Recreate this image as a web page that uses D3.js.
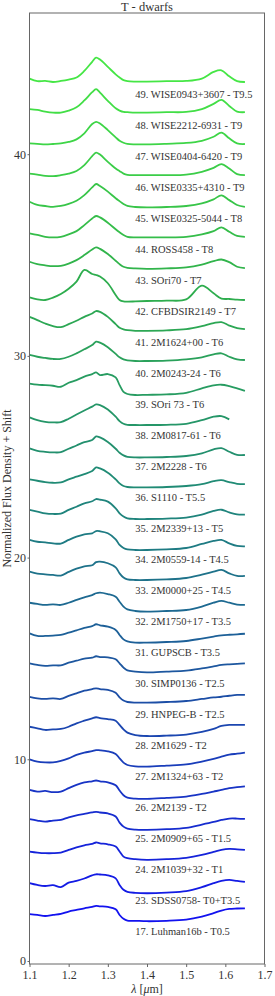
<!DOCTYPE html>
<html>
<head>
<meta charset="utf-8">
<script src="https://cdn.jsdelivr.net/npm/d3@7"></script>
<style>
  body { margin: 0; background: #fff; }
  text { font-family: "Liberation Serif", "DejaVu Serif", serif; fill: #333; }
</style>
</head>
<body>
<svg id="chart"></svg>
<script>
// wavelength grid (micron) shared by all spectra
const wavelength = [1.10, 1.12, 1.14, 1.16, 1.18, 1.20, 1.22, 1.24, 1.26, 1.27, 1.28, 1.30, 1.32,
  1.33, 1.34, 1.35, 1.37, 1.40, 1.45, 1.50, 1.54, 1.57, 1.59, 1.61, 1.63, 1.65];

// labels, top to bottom
const names = [
  '49. WISE0943+3607 - T9.5', '48. WISE2212-6931 - T9', '47. WISE0404-6420 - T9',
  '46. WISE0335+4310 - T9', '45. WISE0325-5044 - T8', '44. ROSS458 - T8', '43. SOri70 - T7',
  '42. CFBDSIR2149 - T7', '41. 2M1624+00 - T6', '40. 2M0243-24 - T6', '39. SOri 73 - T6',
  '38. 2M0817-61 - T6', '37. 2M2228 - T6', '36. S1110 - T5.5', '35. 2M2339+13 - T5',
  '34. 2M0559-14 - T4.5', '33. 2M0000+25 - T4.5', '32. 2M1750+17 - T3.5', '31. GUPSCB - T3.5',
  '30. SIMP0136 - T2.5', '29. HNPEG-B - T2.5', '28. 2M1629 - T2', '27. 2M1324+63 - T2',
  '26. 2M2139 - T2', '25. 2M0909+65 - T1.5', '24. 2M1039+32 - T1', '23. SDSS0758- T0+T3.5',
  '17. Luhman16b - T0.5'
];

// normalized flux (before shift), one row per spectrum, same order as names
const fluxes = [
  [0.15, 0.02, 0.03, -0.02, 0.03, 0.10, 0.20, 0.53, 0.98, 1.19, 1.09, 0.73, 0.36, 0.20, 0.07, 0.02, 0, 0, 0.02, 0.03, 0.15, 0.48, 0.56, 0.26, 0.02, -0.02],
  [0.17, 0.13, 0.05, 0, 0, 0.10, 0.26, 0.60, 1.01, 1.16, 0.99, 0.58, 0.21, 0.10, 0.03, 0.02, 0, 0, 0.02, 0.03, 0.17, 0.43, 0.63, 0.33, 0.05, 0.02],
  [0.01, -0.01, -0.04, -0.02, 0.01, 0.08, 0.21, 0.51, 0.97, 1.08, 1.00, 0.67, 0.31, 0.14, 0.04, -0.02, -0.04, -0.04, -0.01, 0.03, 0.14, 0.34, 0.54, 0.26, 0.01, -0.02],
  [0.05, 0.00, -0.06, -0.08, -0.03, 0.05, 0.18, 0.47, 0.91, 1.09, 0.99, 0.63, 0.30, 0.17, 0.05, -0.01, -0.03, -0.03, -0.03, 0.00, 0.14, 0.33, 0.52, 0.30, 0.02, -0.03],
  [0.19, 0.03, -0.02, -0.06, -0.02, 0.08, 0.24, 0.52, 0.90, 1.07, 0.97, 0.69, 0.36, 0.22, 0.08, -0.02, -0.07, -0.09, -0.07, -0.02, 0.11, 0.31, 0.51, 0.27, 0.03, -0.06],
  [0.16, 0.08, -0.01, -0.04, -0.01, 0.11, 0.27, 0.57, 0.90, 1.02, 0.95, 0.69, 0.36, 0.21, 0.08, -0.01, -0.04, -0.04, -0.04, -0.01, 0.11, 0.27, 0.46, 0.24, 0.03, -0.01],
  [0.29, 0.17, 0.11, 0.07, 0.09, 0.20, 0.37, 0.62, 0.90, 1.00, 0.93, 0.67, 0.34, 0.17, 0.04, -0.01, -0.04, -0.06, -0.04, 0.01, 0.15, 0.32, 0.40, 0.27, 0.04, -0.03],
  [0.06, -0.04, -0.07, 0.05, 0.23, 0.49, 0.84, 1.42, 1.22, 1.17, 1.09, 0.76, 0.18, -0.07, -0.14, -0.15, -0.14, -0.12, -0.10, -0.04, 0.64, 0.26, 0.00, -0.02, -0.05, -0.07],
  [0.63, 0.47, 0.30, 0.17, 0.12, 0.27, 0.44, 0.63, 0.80, 0.92, 0.88, 0.63, 0.27, 0.09, 0.01, -0.03, -0.06, -0.06, -0.04, 0.02, 0.17, 0.32, 0.37, 0.20, 0.07, 0.02],
  [0.28, 0.19, 0.13, 0.08, 0.08, 0.19, 0.36, 0.56, 0.77, 0.94, 0.89, 0.66, 0.33, 0.16, 0.06, 0.01, -0.02, -0.02, 0.00, 0.06, 0.16, 0.31, 0.36, 0.19, 0.06, 0.03],
  [0.40, 0.34, 0.32, 0.29, 0.24, 0.44, 0.57, 0.74, 0.87, 0.95, 0.82, 0.87, 0.70, 0.32, -0.01, -0.12, -0.17, -0.16, -0.14, -0.06, 0.16, 0.31, 0.34, 0.27, 0.16, 0.04],
  [0.26, 0.12, 0.04, 0.01, 0.02, 0.19, 0.40, 0.60, 0.79, 0.90, 0.87, 0.65, 0.29, 0.07, -0.06, -0.11, -0.12, -0.12, -0.11, -0.06, 0.12, 0.29, 0.32, 0.16, null, null],
  [0.26, 0.14, 0.09, 0.06, 0.07, 0.24, 0.40, 0.57, 0.67, 0.85, 0.80, 0.57, 0.24, 0.04, -0.09, -0.16, -0.19, -0.19, -0.17, -0.12, 0.01, 0.21, 0.27, 0.09, -0.06, -0.07],
  [0.26, 0.19, 0.12, 0.09, 0.11, 0.26, 0.39, 0.52, 0.67, 0.85, 0.80, 0.59, 0.26, 0.06, -0.07, -0.12, -0.14, -0.14, -0.12, -0.07, 0.02, 0.17, 0.22, 0.12, 0.04, 0.02],
  [0.28, 0.20, 0.11, 0.08, 0.10, 0.28, 0.44, 0.61, 0.71, 0.82, 0.79, 0.69, 0.36, 0.11, -0.05, -0.14, -0.17, -0.17, -0.15, -0.10, 0.05, 0.23, 0.29, 0.16, 0.06, 0.05],
  [0.33, 0.24, 0.21, 0.16, 0.15, 0.33, 0.49, 0.61, 0.66, 0.77, 0.76, 0.66, 0.36, 0.08, -0.07, -0.14, -0.17, -0.17, -0.14, -0.07, 0.13, 0.28, 0.33, 0.16, 0.03, 0.01],
  [0.29, 0.20, 0.16, 0.13, 0.10, 0.28, 0.44, 0.56, 0.61, 0.77, 0.79, 0.71, 0.51, 0.21, 0.00, -0.09, -0.12, -0.12, -0.09, -0.02, 0.15, 0.29, 0.38, 0.21, 0.08, 0.08],
  [0.29, 0.23, 0.18, 0.21, 0.18, 0.29, 0.43, 0.56, 0.67, 0.76, 0.79, 0.72, 0.59, 0.34, 0.10, -0.04, -0.12, -0.15, -0.12, -0.07, 0.10, 0.29, 0.38, 0.29, 0.20, 0.18],
  [0.31, 0.18, 0.18, 0.20, 0.23, 0.34, 0.46, 0.58, 0.67, 0.76, 0.71, 0.64, 0.48, 0.23, 0.01, -0.09, -0.15, -0.15, -0.12, -0.07, 0.05, 0.15, 0.21, 0.24, 0.26, 0.29],
  [0.36, 0.28, 0.23, 0.26, 0.26, 0.39, 0.49, 0.59, 0.64, 0.71, 0.67, 0.66, 0.56, 0.36, 0.15, 0.01, -0.05, -0.09, -0.05, 0.00, 0.11, 0.21, 0.28, 0.31, 0.33, 0.36],
  [0.24, 0.16, 0.13, 0.16, 0.13, 0.28, 0.41, 0.54, 0.62, 0.66, 0.62, 0.58, 0.44, 0.21, 0.05, -0.02, -0.05, -0.05, -0.02, 0.03, 0.13, 0.21, 0.24, 0.29, 0.33, 0.33],
  [0.29, 0.21, 0.13, 0.16, 0.18, 0.29, 0.46, 0.59, 0.71, 0.76, 0.72, 0.67, 0.59, 0.38, 0.16, 0.00, -0.12, -0.17, -0.15, -0.10, 0.03, 0.18, 0.33, 0.38, 0.38, 0.38],
  [0.21, 0.10, 0.06, 0.06, 0.13, 0.26, 0.43, 0.54, 0.62, 0.67, 0.66, 0.61, 0.48, 0.26, 0.05, -0.07, -0.14, -0.15, -0.10, -0.04, 0.10, 0.23, 0.34, 0.44, 0.49, 0.54],
  [0.23, 0.15, 0.18, 0.12, 0.15, 0.32, 0.48, 0.60, 0.66, 0.70, 0.66, 0.61, 0.46, 0.20, -0.03, -0.15, -0.20, -0.21, -0.16, -0.10, 0.03, 0.15, 0.23, 0.32, 0.37, 0.41],
  [0.32, 0.25, 0.20, 0.25, 0.28, 0.41, 0.51, 0.58, 0.65, 0.68, 0.65, 0.60, 0.45, 0.15, -0.05, -0.15, -0.20, -0.21, -0.18, -0.11, 0.05, 0.18, 0.28, 0.35, 0.35, 0.33],
  [0.25, 0.20, 0.17, 0.17, 0.20, 0.33, 0.46, 0.56, 0.63, 0.70, 0.66, 0.61, 0.50, 0.25, 0.00, -0.08, -0.13, -0.16, -0.13, -0.06, 0.08, 0.23, 0.33, 0.38, 0.36, 0.33],
  [0.22, 0.13, 0.08, 0.12, 0.02, 0.25, 0.33, 0.45, 0.61, 0.66, 0.65, 0.61, 0.46, 0.13, -0.11, -0.21, -0.26, -0.28, -0.25, -0.18, 0.02, 0.22, 0.33, 0.38, 0.33, 0.28],
  [0.22, 0.18, 0.13, 0.18, 0.23, 0.35, 0.43, 0.51, 0.58, 0.63, 0.61, 0.58, 0.46, 0.18, -0.01, -0.10, -0.11, -0.13, -0.11, -0.05, 0.10, 0.27, 0.40, 0.48, 0.50, 0.51]
];

const topShift = 43.6;
const shiftStep = 1.537;
const xTicks = [1.1, 1.2, 1.3, 1.4, 1.5, 1.6, 1.7];
const yTicks = [0, 10, 20, 30, 40];
const colorStops = ['#45e645', '#2fae4c', '#1f8878', '#1c4ca8', '#1212ef'];

const width = 275;
const height = 996;
const margin = { top: 13, right: 10.5, bottom: 32, left: 29.5 };

const svg = d3.select('#chart').attr('width', width).attr('height', height);

const x = d3.scaleLinear().domain([1.1, 1.7]).range([margin.left, width - margin.right]);
const y = d3.scaleLinear().domain([-0.15, 47.0]).range([height - margin.bottom, margin.top]);
const color = d3.scaleLinear()
  .domain(colorStops.map((c, i) => i * (names.length - 1) / (colorStops.length - 1)))
  .range(colorStops);

const shift = i => topShift - i * shiftStep;

const line = d3.line()
  .defined(d => d.f != null)
  .x(d => x(d.w))
  .y(d => y(d.f + d.s))
  .curve(d3.curveCatmullRom.alpha(0.5));

const g = svg.append('g');

fluxes.forEach((row, i) => {
  const pts = row.map((f, j) => ({ w: wavelength[j], f, s: shift(i) }));
  g.append('path')
    .datum(pts)
    .attr('fill', 'none')
    .attr('stroke', color(i))
    .attr('stroke-width', 1.8)
    .attr('stroke-linejoin', 'round')
    .attr('d', line);
  g.append('text')
    .attr('x', x(1.37))
    .attr('y', y(shift(i) - 0.79))
    .attr('font-size', 10.5)
    .text(names[i]);
});

// frame
svg.append('rect')
  .attr('x', margin.left)
  .attr('y', margin.top)
  .attr('width', width - margin.left - margin.right)
  .attr('height', height - margin.top - margin.bottom)
  .attr('fill', 'none')
  .attr('stroke', '#666')
  .attr('stroke-width', 1);

const xAxis = svg.append('g')
  .attr('transform', `translate(0,${height - margin.bottom})`)
  .call(d3.axisBottom(x).tickValues(xTicks).tickFormat(d3.format('.1f')).tickSize(3).tickPadding(3));
const yAxis = svg.append('g')
  .attr('transform', `translate(${margin.left},0)`)
  .call(d3.axisLeft(y).tickValues(yTicks).tickSize(2).tickPadding(1.5));
[xAxis, yAxis].forEach(a => {
  a.select('.domain').remove();
  a.selectAll('line').attr('stroke', '#666');
  a.selectAll('text').attr('font-size', 12).attr('font-family', '"Liberation Serif", serif').attr('fill', '#333');
});

svg.append('text')
  .attr('x', (margin.left + width - margin.right) / 2)
  .attr('y', 11)
  .attr('text-anchor', 'middle')
  .attr('font-size', 12.5)
  .text('T - dwarfs');

const xl = svg.append('text')
  .attr('x', (margin.left + width - margin.right) / 2)
  .attr('y', 993)
  .attr('text-anchor', 'middle')
  .attr('font-size', 12);
xl.append('tspan').attr('font-style', 'italic').text('λ');
xl.append('tspan').text(' [');
xl.append('tspan').attr('font-style', 'italic').text('μ');
xl.append('tspan').text('m]');

svg.append('text')
  .attr('transform', `translate(11,${(margin.top + height - margin.bottom) / 2}) rotate(-90)`)
  .attr('text-anchor', 'middle')
  .attr('font-size', 12)
  .text('Normalized Flux Density + Shift');
</script>
</body>
</html>
